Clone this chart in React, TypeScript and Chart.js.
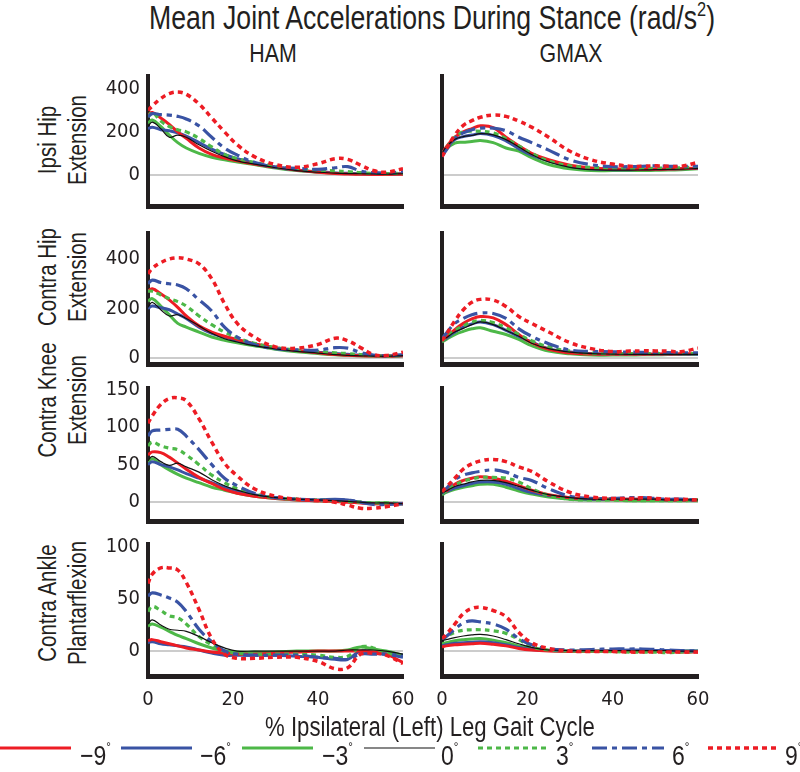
import React, { useEffect, useRef } from "react";
import { Chart, registerables } from "chart.js";
Chart.register(...registerables);

const FONT = "'Liberation Sans', Arial, sans-serif";
const TICK_FONT = "'DejaVu Sans Condensed', 'DejaVu Sans', sans-serif";
const INK = "#231f20";

// % gait cycle sample points
const X = [0, 1, 3, 5, 7, 9, 12, 15, 18, 21, 25, 30, 35, 40, 44, 47, 50, 53, 56, 60];
const ANGLES = ["−9", "−6", "−3", "0", "3", "6", "9"];
const COLUMNS = ["HAM", "GMAX"];
const ROW_LABELS = [
  ["Ipsi Hip", "Extension"],
  ["Contra Hip", "Extension"],
  ["Contra Knee", "Extension"],
  ["Contra Ankle", "Plantarflexion"],
];
const X_TICKS = [0, 20, 40, 60];
const Y_TICKS_IPSI_HIP = [0, 200, 400];
const Y_TICKS_CONTRA_HIP = [0, 200, 400];
const Y_TICKS_KNEE = [0, 50, 100, 150];
const Y_TICKS_ANKLE = [0, 50, 100];

// series order: -9, -6, -3, 0, 3, 6, 9
const IPSI_HIP_HAM = [
  [280, 290, 265, 235, 200, 170, 125, 95, 78, 65, 50, 35, 22, 12, 6, 4, 3, 2, 2, 3],
  [215, 222, 210, 205, 195, 180, 150, 120, 95, 75, 55, 35, 22, 14, 9, 7, 5, 4, 4, 5],
  [240, 255, 225, 185, 150, 125, 100, 82, 70, 60, 48, 32, 20, 12, 8, 6, 5, 4, 4, 5],
  [225, 245, 215, 175, 185, 175, 140, 110, 85, 65, 50, 33, 20, 12, 8, 6, 5, 4, 3, 5],
  [270, 290, 250, 225, 210, 200, 170, 130, 95, 75, 58, 40, 28, 22, 18, 15, 10, 7, 6, 8],
  [270, 285, 280, 278, 272, 260, 228, 175, 125, 92, 58, 36, 30, 26, 33, 38, 18, 10, 8, 15],
  [300, 320, 355, 378, 385, 375, 330, 265, 200, 140, 85, 48, 35, 52, 75, 72, 45, 20, 12, 28],
];
const IPSI_HIP_GMAX = [
  [95, 130, 175, 200, 215, 228, 220, 175, 135, 100, 70, 45, 32, 28, 27, 26, 26, 27, 28, 32],
  [100, 125, 165, 178, 185, 192, 183, 158, 122, 92, 65, 40, 28, 24, 24, 25, 26, 27, 28, 30],
  [90, 120, 148, 152, 155, 160, 150, 125, 110, 80, 48, 28, 20, 20, 20, 20, 21, 22, 24, 28],
  [100, 130, 165, 178, 183, 192, 186, 164, 130, 95, 60, 35, 24, 22, 22, 23, 24, 25, 26, 30],
  [90, 125, 175, 200, 203, 203, 195, 168, 135, 100, 65, 42, 35, 32, 30, 30, 31, 32, 33, 38],
  [85, 115, 170, 195, 210, 217, 217, 205, 175, 150, 115, 70, 47, 38, 38, 40, 42, 40, 40, 40],
  [85, 120, 185, 230, 252, 268, 278, 272, 250, 222, 175, 110, 70, 50, 40, 40, 42, 40, 40, 58],
];
const CONTRA_HIP_HAM = [
  [270, 280, 260, 235, 205, 170, 130, 105, 88, 75, 58, 42, 30, 21, 14, 11, 9, 8, 7, 9],
  [200, 210, 203, 195, 178, 160, 125, 100, 85, 70, 55, 40, 30, 23, 18, 15, 12, 10, 9, 10],
  [230, 240, 210, 175, 140, 125, 105, 85, 72, 62, 50, 36, 25, 18, 13, 11, 9, 8, 7, 9],
  [205, 225, 195, 170, 175, 160, 130, 100, 78, 65, 50, 37, 27, 20, 14, 11, 9, 8, 7, 10],
  [270, 270, 255, 240, 228, 210, 170, 135, 105, 82, 60, 42, 32, 26, 21, 18, 14, 10, 8, 10],
  [300, 315, 305, 300, 295, 280, 235, 190, 125, 85, 55, 38, 33, 32, 42, 40, 22, 12, 9, 14],
  [340, 362, 385, 400, 405, 400, 380, 320, 220, 140, 85, 45, 40, 55, 80, 70, 42, 15, 10, 24],
];
const CONTRA_HIP_GMAX = [
  [70, 85, 115, 140, 158, 168, 162, 135, 95, 62, 35, 20, 16, 15, 15, 15, 16, 16, 17, 18],
  [68, 80, 105, 125, 138, 146, 135, 112, 88, 65, 38, 24, 18, 16, 15, 15, 15, 15, 15, 15],
  [65, 75, 95, 108, 118, 122, 108, 95, 75, 50, 28, 17, 12, 12, 12, 13, 13, 14, 14, 15],
  [70, 82, 105, 120, 135, 146, 135, 112, 88, 60, 38, 24, 18, 16, 15, 15, 15, 15, 15, 15],
  [68, 85, 112, 130, 145, 152, 143, 122, 95, 70, 45, 28, 20, 18, 18, 18, 18, 18, 18, 18],
  [78, 100, 140, 160, 175, 182, 180, 160, 118, 88, 58, 32, 27, 25, 24, 23, 22, 22, 21, 21],
  [70, 95, 150, 195, 225, 237, 234, 208, 168, 140, 105, 62, 38, 26, 28, 29, 29, 28, 26, 40],
];
const KNEE_HAM = [
  [63, 67, 66, 60, 52, 44, 33, 25, 17, 12, 8, 5, 3, 2, 1, 0, -1, -2, -2, -2],
  [50, 54, 50, 47, 43, 38, 32, 26, 20, 15, 10, 6, 4, 3, 4, 3, 0, -2, -2, -2],
  [52, 58, 50, 43, 37, 32, 26, 20, 16, 12, 8, 5, 3, 2, 1, 1, 0, -1, -1, -2],
  [55, 61, 54, 49, 52, 47, 40, 30, 22, 16, 10, 6, 4, 3, 2, 1, 0, -1, -1, -2],
  [75, 80, 75, 72, 70, 63, 50, 36, 26, 18, 11, 6, 4, 3, 2, 1, 0, -1, -1, -2],
  [88, 95, 96, 97, 97, 88, 70, 50, 32, 22, 12, 6, 4, 3, 3, 3, 0, -3, -3, -2],
  [105, 115, 130, 138, 139, 135, 111, 80, 52, 35, 18, 8, 4, 2, 0, -4, -8, -8, -6, -2],
];
const KNEE_GMAX = [
  [12, 15, 24, 29, 32, 34, 32, 28, 22, 16, 10, 6, 5, 4, 4, 4, 4, 3, 3, 3],
  [11, 14, 19, 22, 25, 27, 27, 24, 18, 13, 9, 6, 4, 4, 4, 4, 4, 3, 3, 3],
  [10, 13, 17, 20, 22, 24, 24, 20, 15, 11, 7, 4, 3, 3, 2, 2, 2, 2, 2, 2],
  [12, 15, 21, 24, 27, 29, 29, 26, 21, 16, 10, 6, 4, 4, 4, 4, 4, 3, 3, 3],
  [11, 15, 23, 28, 31, 33, 33, 32, 27, 18, 9, 4, 3, 3, 2, 2, 2, 2, 2, 3],
  [12, 18, 30, 36, 39, 41, 43, 40, 33, 29, 18, 8, 5, 5, 6, 6, 5, 4, 4, 3],
  [14, 20, 32, 44, 51, 55, 57, 54, 47, 41, 27, 13, 7, 5, 5, 6, 5, 4, 4, 3],
];
const ANKLE_HAM = [
  [10, 11, 9, 7, 5, 3, 1, -1, -2, -3, -3, -2, -1, 0, 0, 0, 0, -1, -3, -11],
  [8, 9, 7, 6, 5, 4, 1, -2, -4, -4, -4, -4, -5, -6, -8, -8, 0, -2, -3, -4],
  [24, 26, 23, 19, 15, 12, 7, 3, 0, -1, -1, -1, 0, 0, 0, 1, 4, 2, 0, -4],
  [26, 30, 25, 21, 20, 19, 14, 8, 3, 0, 0, 0, 0, 0, 0, 1, 1, 1, 0, -3],
  [38, 43, 39, 34, 32, 26, 14, 6, 0, -2, -3, -3, -3, -4, -6, -5, 4, 3, -2, -4],
  [53, 56, 54, 51, 47, 38, 21, 9, 0, -3, -4, -4, -4, -6, -7, -8, -3, -3, -3, -6],
  [65, 74, 80, 80, 78, 66, 40, 12, -3, -7, -7, -6, -6, -10, -17, -16, -3, -2, -4, -12],
];
const ANKLE_GMAX = [
  [4, 5, 6, 6.5, 7, 7.5, 6.5, 5, 2.5, 1, 0, -0.5, -0.5, -0.5, -0.5, -0.5, -0.5, -0.5, -1, -1],
  [5, 6, 7.5, 8, 8.5, 9, 8, 6, 3.5, 1.5, 0.5, 0, 0, 0.5, 1, 1, 0.5, 0.5, 0, 0],
  [7, 8, 10, 11, 11.5, 12, 10.5, 8, 5, 2, 0.5, 0, 0, 0, 0, 0, 0, 0, 0, 0],
  [10, 11, 13, 14.5, 15.5, 16, 14.5, 11, 7, 3.5, 1, 0.5, 0.5, 0.5, 0.5, 0.5, 0.5, 0.5, 0, 0],
  [11, 14, 18, 20, 20.5, 20.5, 19.5, 17, 11, 4, 1, 0, 0, -0.5, -1, -1, -1, -1.5, -1, -0.5],
  [11, 14, 21, 27, 29, 28, 26, 21, 12, 6, 2, 1, 1.5, 2, 2, 2, 1.5, 1, 0.5, 0],
  [12, 16, 26, 36, 41, 42, 39, 33, 18, 8, 2.5, 0, -0.5, -0.5, -1, -1, -1, -1, -1, -1],
];

const PANEL_DATA = [
  [IPSI_HIP_HAM, IPSI_HIP_GMAX],
  [CONTRA_HIP_HAM, CONTRA_HIP_GMAX],
  [KNEE_HAM, KNEE_GMAX],
  [ANKLE_HAM, ANKLE_GMAX],
];

// styling / layout (kept apart from the data)
const RED = "#ed1c24";
const BLUE = "#3953a4";
const GREEN = "#4db848";
const SERIES_STYLE = [
  { color: RED, width: 3, dash: [], order: 4 },
  { color: BLUE, width: 3, dash: [], order: 5 },
  { color: GREEN, width: 3, dash: [], order: 6 },
  { color: "#111111", width: 1.2, dash: [], order: 1 },
  { color: GREEN, width: 3.2, dash: [5, 4], order: 3 },
  { color: BLUE, width: 3.2, dash: [15, 5, 5, 5], order: 2 },
  { color: RED, width: 3.5, dash: [5, 4], order: 0 },
];
const ROW_GEOM = [
  { T: 76, B: 206, min: -145, max: 460, ticks: Y_TICKS_IPSI_HIP, labelY: 140 },
  { T: 233, B: 364, min: -24, max: 505, ticks: Y_TICKS_CONTRA_HIP, labelY: 277 },
  { T: 388, B: 521, min: -25, max: 152, ticks: Y_TICKS_KNEE, labelY: 400 },
  { T: 544, B: 676, min: -24, max: 103, ticks: Y_TICKS_ANKLE, labelY: 603 },
];
const COL_GEOM = [
  { L: 148, R: 403, headX: 273 },
  { L: 442, R: 698, headX: 571 },
];
const LEGEND_GEOM = [
  { x1: 0, x2: 71, tx: 80 },
  { x1: 121, x2: 192, tx: 200 },
  { x1: 242, x2: 313, tx: 322 },
  { x1: 364, x2: 435, tx: 441 },
  { x1: 478, x2: 548, tx: 556 },
  { x1: 592, x2: 664, tx: 672 },
  { x1: 708, x2: 777, tx: 785 },
];
const SQUEEZE = 0.82;

function Panel({ row, col }: { row: number; col: number }) {
  const ref = useRef<HTMLCanvasElement>(null);
  const g = ROW_GEOM[row];
  const c = COL_GEOM[col];
  const bottomRow = row === ROW_GEOM.length - 1;
  const padL = 60, padT = 8, padR = 16, padB = bottomRow ? 40 : 8;
  const W = padL + (c.R - c.L) + padR;
  const H = padT + (g.B - g.T) + padB;
  const series = PANEL_DATA[row][col];

  useEffect(() => {
    const chart = new Chart(ref.current as HTMLCanvasElement, {
      type: "line",
      data: {
        datasets: series.map((vals, i) => ({
          label: ANGLES[i] + "°",
          data: X.map((x, j) => ({ x, y: vals[j] })),
          borderColor: SERIES_STYLE[i].color,
          borderWidth: SERIES_STYLE[i].width,
          borderDash: SERIES_STYLE[i].dash,
          order: SERIES_STYLE[i].order,
          pointRadius: 0,
          tension: 0.4,
          fill: false,
        })),
      },
      options: {
        responsive: false,
        animation: false,
        devicePixelRatio: 1,
        layout: { padding: { top: padT, right: padR, left: 0, bottom: 0 } },
        plugins: { legend: { display: false }, tooltip: { enabled: false } },
        scales: {
          x: {
            type: "linear",
            min: 0,
            max: 60,
            afterFit: (s: any) => { s.height = padB; s.paddingLeft = 0; s.paddingRight = 0; },
            afterBuildTicks: (s: any) => { s.ticks = X_TICKS.map((v) => ({ value: v })); },
            grid: { display: false, drawTicks: false },
            border: { display: true, width: 5, color: INK },
            ticks: { display: bottomRow, padding: 12, color: INK, font: { family: TICK_FONT, size: 20 } },
          },
          y: {
            type: "linear",
            min: g.min,
            max: g.max,
            afterFit: (s: any) => { s.width = padL; s.paddingTop = 0; s.paddingBottom = 0; },
            afterBuildTicks: (s: any) => { s.ticks = g.ticks.map((v) => ({ value: v })); },
            grid: {
              drawTicks: false,
              lineWidth: 2,
              color: (ctx: any) => (ctx.tick && ctx.tick.value === 0 ? "#cccccc" : "rgba(0,0,0,0)"),
            },
            border: { display: true, width: 4, color: INK },
            ticks: { display: col === 0, padding: 8, color: INK, font: { family: TICK_FONT, size: 20 } },
          },
        },
      },
    } as any);
    return () => chart.destroy();
  }, []);

  return (
    <canvas
      ref={ref}
      width={W}
      height={H}
      style={{ position: "absolute", left: c.L - padL, top: g.T - padT, width: W, height: H }}
    />
  );
}

export default function App() {
  const text = { position: "absolute" as const, fontFamily: FONT, color: INK, whiteSpace: "nowrap" as const };
  return (
    <div style={{ position: "absolute", left: 0, top: 0, width: 800, height: 772, background: "#fff", overflow: "hidden" }}>
      <div style={{ ...text, left: 432, top: 0, fontSize: 32.5, lineHeight: "36px", transform: `translateX(-50%) scaleX(${SQUEEZE})` }}>
        Mean Joint Accelerations During Stance (rad/s<span style={{ fontSize: 20, position: "relative", top: -13 }}>2</span>)
      </div>
      {COLUMNS.map((h, i) => (
        <div key={h} style={{ ...text, left: COL_GEOM[i].headX, top: 38, fontSize: 26, lineHeight: "30px", transform: `translateX(-50%) scaleX(${SQUEEZE})` }}>{h}</div>
      ))}
      {ROW_LABELS.map((lines, r) => (
        <div key={r} style={{ ...text, left: 62, top: ROW_GEOM[r].labelY, fontSize: 25, lineHeight: "30px", textAlign: "center", transform: `translate(-50%, -50%) rotate(-90deg) scaleX(${SQUEEZE})` }}>
          {lines[0]}<br />{lines[1]}
        </div>
      ))}
      {ROW_GEOM.map((_, r) => COL_GEOM.map((__, c) => <Panel key={r + "-" + c} row={r} col={c} />))}
      <div style={{ ...text, left: 430, top: 712, fontSize: 27, lineHeight: "30px", transform: `translateX(-50%) scaleX(${SQUEEZE})` }}>
        % Ipsilateral (Left) Leg Gait Cycle
      </div>
      <svg width={800} height={30} style={{ position: "absolute", left: 0, top: 735 }}>
        {LEGEND_GEOM.map((lg, i) => (
          <line key={i} x1={lg.x1} x2={lg.x2} y1={13} y2={13} stroke={SERIES_STYLE[i].color}
            strokeWidth={SERIES_STYLE[i].width} strokeDasharray={SERIES_STYLE[i].dash.join(" ")} />
        ))}
      </svg>
      {LEGEND_GEOM.map((lg, i) => (
        <div key={i} style={{ ...text, left: lg.tx, top: 740, fontSize: 28, lineHeight: "32px", transformOrigin: "0 50%", transform: `scaleX(${SQUEEZE})` }}>
          {ANGLES[i]}<span style={{ fontSize: 14, position: "relative", top: -13 }}>°</span>
        </div>
      ))}
    </div>
  );
}
